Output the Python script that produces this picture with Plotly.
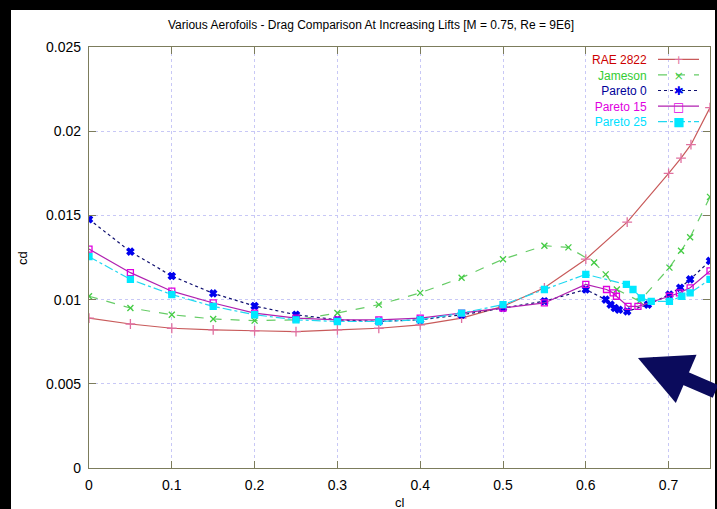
import plotly.graph_objects as go

# ---------------- data ----------------
rae_cl = [0, 0.05, 0.1, 0.15, 0.2, 0.25, 0.3, 0.35, 0.4, 0.45, 0.5, 0.55, 0.6, 0.65, 0.7, 0.715, 0.727, 0.75]
rae_cd = [0.0089, 0.00855, 0.0083, 0.0082, 0.00815, 0.0081, 0.0082, 0.0083, 0.0085, 0.0089, 0.0096,
          0.0107, 0.0124, 0.0146, 0.0175, 0.0184, 0.0192, 0.0214]

jam_cl = [0, 0.05, 0.1, 0.15, 0.2, 0.25, 0.3, 0.35, 0.4, 0.45, 0.5, 0.55, 0.579, 0.61, 0.624,
          0.6375, 0.665, 0.701, 0.715, 0.726, 0.75]
jam_cd = [0.0102, 0.0095, 0.0091, 0.00885, 0.00875, 0.0088, 0.0092, 0.0097, 0.0104, 0.0113, 0.0124,
          0.0132, 0.0131, 0.0122, 0.0115, 0.0106, 0.0099, 0.0119, 0.0129, 0.0137, 0.0161]

p0_cl = [0, 0.05, 0.1, 0.15, 0.2, 0.25, 0.3, 0.35, 0.4, 0.45, 0.5, 0.55, 0.6, 0.624, 0.63, 0.635,
         0.64, 0.65, 0.675, 0.701, 0.714, 0.726, 0.75]
p0_cd = [0.01477, 0.01285, 0.0114, 0.01037, 0.00962, 0.0091, 0.0088, 0.0087, 0.0088, 0.0091, 0.0095,
         0.0099, 0.0106, 0.0100, 0.0097, 0.0095, 0.0094, 0.0093, 0.0097, 0.0103, 0.0107, 0.0112, 0.0123]

p15_cl = [0, 0.05, 0.1, 0.15, 0.2, 0.25, 0.3, 0.35, 0.4, 0.45, 0.5, 0.55, 0.6, 0.625, 0.633, 0.637,
          0.651, 0.663, 0.701, 0.713, 0.726, 0.75]
p15_cd = [0.0130, 0.0116, 0.0105, 0.0098, 0.0092, 0.0089, 0.0088, 0.0088, 0.0089, 0.0092, 0.0095,
          0.0098, 0.0109, 0.0106, 0.0104, 0.0102, 0.0096, 0.0096, 0.0102, 0.0104, 0.0107, 0.0117]

p25_cl = [0, 0.05, 0.1, 0.15, 0.2, 0.25, 0.3, 0.35, 0.4, 0.45, 0.5, 0.55, 0.6, 0.649, 0.657, 0.667,
          0.679, 0.701, 0.716, 0.726, 0.75]
p25_cd = [0.01255, 0.0112, 0.0103, 0.0096, 0.0091, 0.0088, 0.0087, 0.0087, 0.0088, 0.0092, 0.0097,
          0.0106, 0.0115, 0.0109, 0.0106, 0.0101, 0.0099, 0.0099, 0.0102, 0.0104, 0.0112]

series_names = ["RAE 2822", "Jameson", "Pareto 0", "Pareto 15", "Pareto 25"]

x_ticks = [0, 0.1, 0.2, 0.3, 0.4, 0.5, 0.6, 0.7]
y_ticks = [0, 0.005, 0.01, 0.015, 0.02, 0.025]
y_ticklabels = ["0", "0.005", "0.01", "0.015", "0.02", "0.025"]

FONT = "Liberation Sans, Arial, sans-serif"

# plot-area geometry in pixels (used only to place key/labels)
L, R, T, B = 89, 710, 47, 468
W, H = R - L, B - T


def px(x):
    return (x - L) / W


def py(y):
    return (B - y) / H


fig = go.Figure()

styles = [
    # line colour, text colour, dash, symbol, marker colour, size, key glyph
    ("#c85a5a", "#cc0000", "solid", "cross-thin-open", "#e070a0", 7, "+"),
    ("#66cc66", "#33cc33", "dash", "x-thin-open", "#44cc44", 6, "×"),
    ("#101070", "#000099", "dot", "x", "#0000ee", 6, "✱"),
    ("#b020b0", "#e000e0", "solid", "square-open", "#e000e0", 6, "□"),
    ("#20d8f0", "#00e0ff", "dashdot", "square", "#00e8ff", 6, "■"),
]
data = [(rae_cl, rae_cd), (jam_cl, jam_cd), (p0_cl, p0_cd), (p15_cl, p15_cd), (p25_cl, p25_cd)]

KEY_FONT = 12
row_gap = KEY_FONT * 1.3
key_mid = 90.5
row_y = [key_mid + (i - 2) * row_gap for i in range(5)]

shapes = [dict(type="rect", xref="paper", yref="paper", layer="below",
               x0=px(11), x1=px(715), y0=-0.2, y1=py(10),
               fillcolor="#ffffff", line=dict(width=0))]

name_lines, glyph_lines = [], []
for i, (name, (xs, ys), st) in enumerate(zip(series_names, data, styles)):
    lc, tc, dash, sym, mc, ms, glyph = st
    fig.add_trace(go.Scatter(
        x=xs, y=ys, mode="lines+markers", name=name, showlegend=False,
        line=dict(color=lc, width=1.2, dash=dash),
        marker=dict(symbol=sym, color=mc, size=ms, line=dict(color=mc, width=1.3)),
    ))
    name_lines.append(f"<span style='color:{tc}'>{name}</span>")
    glyph_lines.append(f"<span style='color:{mc}'>{glyph}</span>")
    shapes.append(dict(type="line", xref="paper", yref="paper",
                       x0=px(658), x1=px(699), y0=py(row_y[i]), y1=py(row_y[i]),
                       line=dict(color=lc, width=1.2, dash=dash)))

annotations = [
    # gnuplot-style key: right-aligned names, samples on the right
    dict(text="<br>".join(name_lines), xref="paper", yref="paper", x=px(649), y=py(key_mid),
         xanchor="right", yanchor="middle", align="right", showarrow=False,
         font=dict(family=FONT, size=KEY_FONT)),
    dict(text="<br>".join(glyph_lines), xref="paper", yref="paper", x=px(678), y=py(key_mid),
         xanchor="center", yanchor="middle", align="center", showarrow=False,
         font=dict(family="DejaVu Sans", size=KEY_FONT)),
    dict(text="cl", xref="paper", yref="paper", x=px(400), y=py(502),
         xanchor="center", yanchor="middle",
         showarrow=False, font=dict(family=FONT, size=13)),
    dict(text="cd", xref="paper", yref="paper", x=px(22), y=py(258),
         xanchor="center", yanchor="middle",
         textangle=-90, showarrow=False, font=dict(family=FONT, size=13)),
    dict(text="", x=0.663, y=0.00653, xref="x", yref="y", showarrow=True,
         ax=90, ay=34, arrowhead=2, arrowsize=0.75, arrowwidth=14, arrowcolor="#0b0b5c"),
]

axis_common = dict(
    showline=True, linecolor="#7c7c5c", linewidth=1.2, mirror="ticks",
    ticks="inside", ticklen=7, tickcolor="#7c7c5c", tickwidth=1,
    showgrid=True, gridcolor="#c8c8f6", griddash="dot", gridwidth=1,
    zeroline=False, tickfont=dict(family=FONT, size=14, color="#000000"),
)

fig.update_xaxes(range=[0, 0.75], tickvals=x_ticks, ticktext=[str(v) for v in x_ticks],
                 ticklabelstandoff=4, **axis_common)
fig.update_yaxes(range=[0, 0.025], tickvals=y_ticks, ticktext=y_ticklabels,
                 ticklabelstandoff=4, **axis_common)

fig.update_layout(
    width=717, height=509,
    margin=dict(l=L, r=717 - R, t=T, b=509 - B),
    paper_bgcolor="#000000", plot_bgcolor="#ffffff",
    font=dict(family=FONT, size=12, color="#000000"),
    title=dict(text="Various Aerofoils - Drag Comparison At Increasing Lifts [M = 0.75, Re = 9E6]",
               x=371 / 717, xanchor="center", xref="container",
               y=1 - 25 / 509, yanchor="middle", yref="container",
               font=dict(family=FONT, size=12, color="#000000")),
    showlegend=False,
    shapes=shapes,
    annotations=annotations,
)

fig.write_html("out.html", config={"displayModeBar": False},
               post_script="document.body.style.margin='0';document.body.style.background='#000';")
